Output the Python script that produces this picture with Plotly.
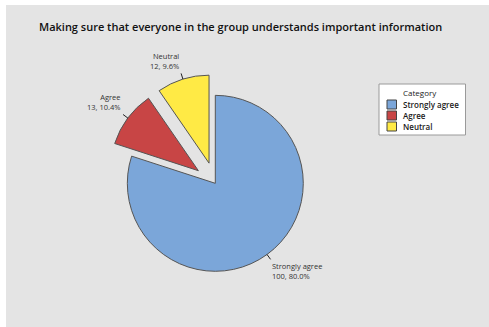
import math
import plotly.graph_objects as go

# Survey responses
categories = ["Strongly agree", "Agree", "Neutral"]
counts = [100, 13, 12]
colors = ["#7BA6D9", "#C84545", "#FFEA45"]
pulls = [0.0, 0.24, 0.24]
title_text = "Making sure that everyone in the group understands important information"
legend_title = "Category"

W, H = 489, 327
dom_x = [0.2172, 0.6634]
dom_y = [0.1057, 0.7731]

fig = go.Figure()
fig.add_trace(go.Pie(
    labels=categories, values=counts, pull=pulls, sort=False,
    direction="clockwise", rotation=0, textinfo="none", hoverinfo="label+value+percent",
    marker=dict(colors=colors, line=dict(color="#555555", width=1)),
    domain=dict(x=dom_x, y=dom_y), showlegend=False,
))

# Pie geometry in pixels (same rule plotly uses to size the pie)
box_w = W * (dom_x[1] - dom_x[0])
box_h = H * (dom_y[1] - dom_y[0])
r = min(box_w, box_h) / (2 + 2 * max(pulls))
cx = W * (dom_x[0] + dom_x[1]) / 2
cy = H * (1 - dom_y[0]) - box_h / 2

def px(x):
    return x / W

def py(y):
    return 1 - y / H

shapes = [
    # chart panel
    dict(type="rect", xref="paper", yref="paper", x0=px(6), x1=1.0, y0=0.0, y1=py(5),
         fillcolor="#E4E4E4", line=dict(width=0), layer="below"),
]
annotations = [
    dict(text=title_text, xref="paper", yref="paper", x=px(240.5), y=py(27),
         xanchor="center", yanchor="middle", showarrow=False,
         font=dict(family="Open Sans", size=11, color="#111111", weight=600)),
]

# Slice labels with short leader lines
total = sum(counts)
start = 0.0
for name, v, p in zip(categories, counts, pulls):
    frac = v / total
    mid = (start + frac / 2) * 2 * math.pi
    start += frac
    dx, dy = math.sin(mid), -math.cos(mid)
    ex = cx + dx * r * (1 + p)
    ey = cy + dy * r * (1 + p)
    lx = ex + dx * 6
    ly = ey + dy * 6
    shapes.append(dict(type="line", xref="paper", yref="paper",
                       x0=px(ex), y0=py(ey), x1=px(lx), y1=py(ly),
                       line=dict(color="#222222", width=1)))
    xa = "left" if dx > 0 else "right"
    ya = "top" if dy > 0 else "bottom"
    annotations.append(dict(
        text=f"{name}<br>{v}, {100 * frac:.1f}%", xref="paper", yref="paper",
        x=px(lx - 1 if dx > 0 else lx), y=py(ly), xanchor=xa, yanchor=ya, align=xa,
        showarrow=False,
        font=dict(family="Open Sans", size=7.5, color="#333333"),
    ))

# Legend box
lg_x0, lg_x1, lg_y0, lg_y1 = 379, 465.5, 84, 135
shapes.append(dict(type="rect", xref="paper", yref="paper",
                   x0=px(lg_x0), x1=px(lg_x1), y0=py(lg_y1), y1=py(lg_y0),
                   fillcolor="white", line=dict(color="#9A9A9A", width=1)))
annotations.append(dict(text=legend_title, xref="paper", yref="paper",
                        x=px(401), y=py(92.5), xanchor="left", yanchor="middle",
                        showarrow=False,
                        font=dict(family="Open Sans", size=8, color="#1a1a1a")))
for i, (name, col) in enumerate(zip(categories, colors)):
    yc = 104.5 + 11 * i
    shapes.append(dict(type="rect", xref="paper", yref="paper",
                       x0=px(387), x1=px(396.5), y0=py(yc + 4.5), y1=py(yc - 4.5),
                       fillcolor=col, line=dict(color="#444444", width=1)))
    annotations.append(dict(text=name, xref="paper", yref="paper",
                            x=px(401), y=py(yc), xanchor="left", yanchor="middle",
                            showarrow=False,
                            font=dict(family="Open Sans", size=8, color="#1a1a1a", weight=600)))

fig.update_layout(
    width=W, height=H, margin=dict(l=0, r=0, t=0, b=0),
    paper_bgcolor="white", plot_bgcolor="white",
    shapes=shapes, annotations=annotations, showlegend=False,
)
fig.write_html("out.html")
